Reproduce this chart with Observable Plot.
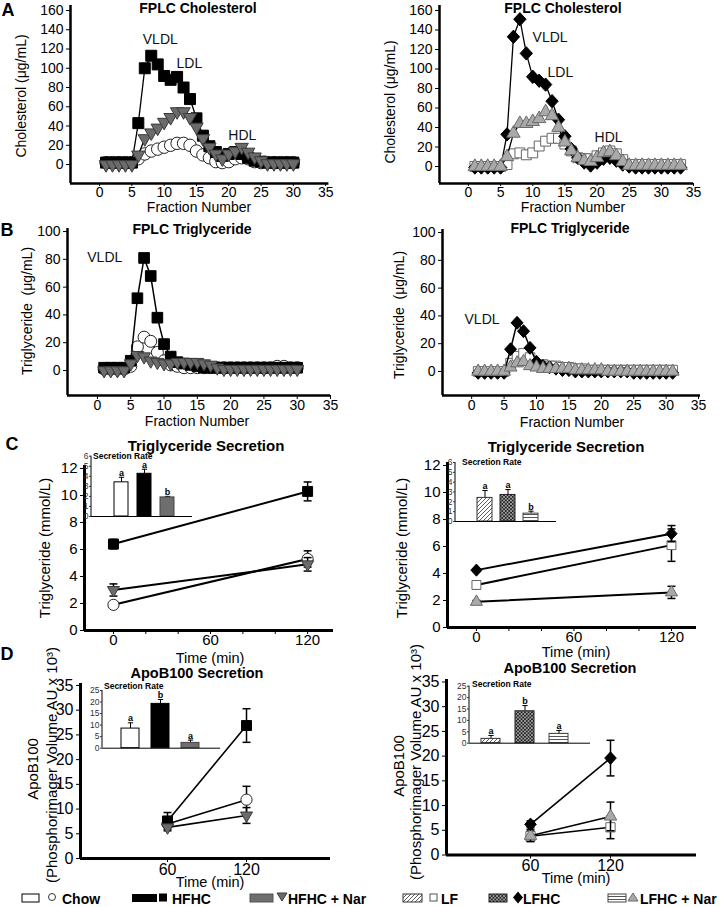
<!DOCTYPE html>
<html><head><meta charset="utf-8">
<script src="https://cdn.jsdelivr.net/npm/d3@7"></script>
<script src="https://cdn.jsdelivr.net/npm/@observablehq/plot@0.6"></script>
<style>
body{margin:0;background:#fff;}
#fig{position:relative;width:726px;height:907px;overflow:hidden;font-family:"Liberation Sans",Arial,sans-serif;color:#000;background:#fff;}
</style></head><body>
<svg width="0" height="0" style="position:absolute"><defs>
<pattern id="pLF" patternUnits="userSpaceOnUse" width="4" height="4"><rect width="4" height="4" fill="#fff"/><path d="M-1,1 l2,-2 M0,4 l4,-4 M3,5 l2,-2" stroke="#333" stroke-width="0.8"/></pattern>
<pattern id="pLFHC" patternUnits="userSpaceOnUse" width="3.5" height="3.5"><rect width="3.5" height="3.5" fill="#222"/><path d="M0,0 L3.5,3.5 M3.5,0 L0,3.5" stroke="#ddd" stroke-width="0.6"/></pattern>
<pattern id="pNar" patternUnits="userSpaceOnUse" width="4" height="3"><rect width="4" height="3" fill="#fff"/><path d="M0,1.5 H4" stroke="#555" stroke-width="1"/></pattern>
</defs></svg>
<div id="fig"></div>
<script>
// ---------------- DATA ----------------
// Panel A: FPLC cholesterol (µg/mL) per fraction
const fractionsA1 = [1,2,3,4,5,6,7,8,9,10,11,12,13,14,15,16,17,18,19,20,21,22,23,24,25,26,27,28,29,30];
const cholChow    = [2,2,2,2,2,6,11,14,16,18,20,22,22,20,14,10,7,3,2,3,6,7,6,3,2,2,2,2,2,2];
const cholHFHC    = [2,2,2,2,2,43,100,113,104,92,88,91,80,68,48,30,19,13,9,11,13,11,7,4,3,2,2,2,2,2];
const cholHFHCNar = [0,0,0,0,0,10,27,33,38,44,49,55,55,49,39,27,18,11,6,11,14,18,13,8,4,1,1,1,1,1];
const fractionsA2 = [1,2,3,4,5,6,7,8,9,10,11,12,13,14,15,16,17,18,19,20,21,22,23,24,25,26,27,28,29,30,31,32,33];
const cholLF      = [0,0,0,0,0,2,13,14,12,14,21,26,29,29,23,16,9,8,8,11,14,16,13,7,2,2,2,2,2,2,2,2,2];
const cholLFHC    = [-1,-1,-1,-1,-1,33,133,151,116,92,88,84,67,48,31,18,9,4,1,4,8,9,6,2,0,-1,-1,-1,-1,-1,-1,-1,-1];
const cholLFHCNar = [0,0,0,0,0,10,34,44,44,46,49,56,52,40,25,16,9,6,5,9,14,15,11,5,1,1,1,1,1,1,1,1,1];
// Panel B: FPLC triglyceride (µg/mL) per fraction
const fractionsB1 = [1,2,3,4,5,6,7,8,9,10,11,12,13,14,15,16,17,18,19,20,21,22,23,24,25,26,27,28,29,30];
const tgChow      = [1,1,1,1,3,17,24,21,13,7,4,3,2,2,2,2,2,2,2,2,2,2,2,2,2,2,3,3,2,2];
const tgHFHC      = [2,2,2,2,7,52,81,68,38,19,10,6,5,4,3,2,2,2,2,2,2,2,2,2,2,2,2,2,2,2];
const tgHFHCNar   = [0,0,0,0,5,11,10,7,6,5,5,6,6,6,6,5,4,2,1,1,1,1,1,1,1,1,1,1,1,1];
const fractionsB2 = [1,2,3,4,5,6,7,8,9,10,11,12,13,14,15,16,17,18,19,20,21,22,23,24,25,26,27,28,29,30,31];
const tgLF        = [0,0,0,0,0,6,11,13,10,5,5,4,4,3,3,2,2,1,1,1,1,1,1,1,1,1,1,1,1,1,1];
const tgLFHC      = [-1,-1,-1,-1,-1,16,35,29,17,7,4,3,2,1,1,0,0,0,0,0,0,0,0,0,-1,-1,-1,-1,-1,-1,-1];
const tgLFHCNar   = [0,0,0,0,0,3,6,7,4,3,2,2,2,2,2,1,1,1,1,1,0,0,0,0,0,0,0,0,0,0,0];
// Panel C: triglyceride secretion (mmol/L) vs time (min)
const timeC = [0, 120];
const tgsChow = [1.9, 5.3],   tgsChowErr = [0.1, 0.6];
const tgsHFHC = [6.4, 10.3],  tgsHFHCErr = [0.35, 0.7];
const tgsHFHCNar = [3.0, 4.9], tgsHFHCNarErr = [0.45, 0.5];
const tgsLF = [3.15, 6.1],    tgsLFErr = [0.3, 1.2];
const tgsLFHC = [4.25, 6.95], tgsLFHCErr = [0.1, 0.6];
const tgsLFHCNar = [1.9, 2.6], tgsLFHCNarErr = [0.1, 0.45];
// Panel C insets: secretion rate
const groupsHF = ["Chow", "HFHC", "HFHC + Nar"];
const groupsLF = ["LF", "LFHC", "LFHC + Nar"];
const tgRateHF = [3.4, 4.25, 1.9],  tgRateHFErr = [0.5, 0.45, 0.1],  tgRateHFLetters = ["a", "a", "b"];
const tgRateLF = [2.4, 2.7, 0.8],   tgRateLFErr = [0.75, 0.55, 0.25], tgRateLFLetters = ["a", "a", "b"];
// Panel D: ApoB100 secretion (AU x 10^3) vs time (min)
const timeD = [60, 120];
const apoChow = [7.0, 11.9],  apoChowErr = [0.5, 2.7];
const apoHFHC = [7.6, 26.9],  apoHFHCErr = [1.7, 3.4];
const apoHFHCNar = [6.3, 8.7], apoHFHCNarErr = [0.7, 1.6];
const apoLF = [3.8, 5.6],     apoLFErr = [1.0, 2.3];
const apoLFHC = [6.2, 19.6],  apoLFHCErr = [0.7, 3.6];
const apoLFHCNar = [3.9, 7.8], apoLFHCNarErr = [1.2, 2.9];
// Panel D insets
const apoRateHF = [8.5, 19.2, 2.3], apoRateHFErr = [2.5, 1.9, 1.2], apoRateHFLetters = ["a", "b", "a"];
const apoRateLF = [1.9, 14.0, 4.1], apoRateLFErr = [1.5, 2.5, 1.5], apoRateLFLetters = ["a", "b", "a"];
// Tick values
const xTicksFraction = [0,5,10,15,20,25,30,35];
const yTicksChol = [0,20,40,60,80,100,120,140,160];
const yTicksTG = [0,20,40,60,80,100];
const yTicksTGS = [0,2,4,6,8,10,12];
const xTicksTimeC = [0,20,40,60,80,100,120];
const xLabelsTimeC = [0,60,120];
const yTicksApo = [0,5,10,15,20,25,30,35];
const xTicksTimeD = [60,120];
const yTicksRateTG = [0,1,2,3,4,5,6];
const yTicksRateApo = [0,5,10,15,20,25];

// ---------------- HELPERS ----------------
const W = 726, H = 907;
const fig = document.getElementById("fig");
const FONT = '"Liberation Sans", Arial, sans-serif';

function layer(frame, opts) {
  const svg = Plot.plot({
    width: W, height: H,
    marginLeft: frame.x0, marginRight: W - frame.x1,
    marginTop: frame.y0, marginBottom: H - frame.y1,
    style: {background: "transparent", overflow: "visible", fontFamily: FONT, color: "#000"},
    ...opts
  });
  svg.style.position = "absolute";
  svg.style.left = "0px";
  svg.style.top = "0px";
  svg.style.maxWidth = "none";
  fig.appendChild(svg);
}

const triDown = {draw(ctx, size) {
  const y = Math.sqrt(size / (Math.sqrt(3) * 3));
  ctx.moveTo(0, 2 * y); ctx.lineTo(-Math.sqrt(3) * y, -y); ctx.lineTo(Math.sqrt(3) * y, -y); ctx.closePath();
}};
const diamondSym = {draw(ctx, size) {
  const r = Math.sqrt(size) * 0.62625;
  ctx.moveTo(0, -r * 1.08); ctx.lineTo(r, 0); ctx.lineTo(0, r * 1.08); ctx.lineTo(-r, 0); ctx.closePath();
}};
const capSym = {draw(ctx, size) {
  const w = Math.sqrt(size) / 2;
  ctx.moveTo(-w, 0); ctx.lineTo(w, 0);
}};

const STY = {
  Chow:    {symbol: "circle", fill: "#fff", stroke: "#222", k: 1.0},
  HFHC:    {symbol: "square", fill: "#000", stroke: "#000", k: 1.0},
  HFHCNar: {symbol: triDown, fill: "#6b6b6b", stroke: "#3a3a3a", k: 0.8},
  LF:      {symbol: "square", fill: "#fff", stroke: "#666", k: 0.9},
  LFHC:    {symbol: diamondSym, fill: "#000", stroke: "#000", k: 0.9},
  LFHCNar: {symbol: "triangle", fill: "#a9a9a9", stroke: "#6a6a6a", k: 0.8}
};

function table(xs, ys, es) { return xs.map((x, i) => ({x, y: ys[i], e: es ? es[i] : 0})); }

function lineChart(o) {
  const marks = [];
  marks.push(Plot.axisY({ticks: o.yTicks, tickFormat: d => String(d), tickSize: 4, tickPadding: 3, fontSize: o.fontSize, label: null, anchor: "left"}));
  marks.push(Plot.axisX({ticks: o.xTicks, tickFormat: o.xTickFormat || (d => String(d)), tickSize: o.tickSizeX, tickPadding: o.tickPadX, fontSize: o.fontSize, label: null, anchor: "bottom"}));
  for (const s of o.series) {
    const st = STY[s.style];
    if (o.errors) {
      marks.push(Plot.ruleX(s.data, {x: "x", y1: d => d.y - d.e, y2: d => d.y + d.e, stroke: "#000", strokeWidth: 1.5}));
      marks.push(Plot.dot(s.data, {x: "x", y: d => d.y + d.e, symbol: capSym, r: 4.5, stroke: "#000", fill: "none", strokeWidth: 1.5}));
      marks.push(Plot.dot(s.data, {x: "x", y: d => d.y - d.e, symbol: capSym, r: 4.5, stroke: "#000", fill: "none", strokeWidth: 1.5}));
    }
    marks.push(Plot.line(s.data, {x: "x", y: "y", stroke: "#000", strokeWidth: o.lineWidth}));
    marks.push(Plot.dot(s.data, {x: "x", y: "y", symbol: st.symbol, r: o.r * st.k, fill: st.fill, stroke: st.stroke, strokeWidth: 1}));
  }
  marks.push(Plot.ruleX([o.xDomain[0]], {stroke: "#000", strokeWidth: o.axisWidth}));
  marks.push(Plot.ruleY([o.yDomain[0]], {stroke: "#000", strokeWidth: o.axisWidth}));
  if (o.notes) marks.push(Plot.text(o.notes, {x: "x", y: "y", text: "t", fontSize: 14, fill: "#111"}));
  layer(o.frame, {x: {domain: o.xDomain}, y: {domain: o.yDomain}, marks});
}

function barInset(o) {
  const data = o.groups.map((g, i) => ({g, v: o.values[i], e: o.errors[i], l: o.letters[i], f: o.fills[i], s: o.strokes[i]}));
  const vline = (index, scales, values, dims) => {
    const l = document.createElementNS("http://www.w3.org/2000/svg", "line");
    l.setAttribute("x1", dims.marginLeft); l.setAttribute("x2", dims.marginLeft);
    l.setAttribute("y1", dims.marginTop); l.setAttribute("y2", dims.height - dims.marginBottom);
    l.setAttribute("stroke", "#000"); l.setAttribute("stroke-width", "1");
    return l;
  };
  const marks = [
    Plot.ruleX(data, {x: "g", y1: "v", y2: d => d.v + d.e, stroke: "#000", strokeWidth: 1}),
    Plot.dot(data, {x: "g", y: d => d.v + d.e, symbol: capSym, r: 3, stroke: "#000", fill: "none", strokeWidth: 1}),
    Plot.barY(data, {x: "g", y: "v", fill: d => d.f, stroke: d => d.s, strokeWidth: 1}),
    Plot.text(data, {x: "g", y: d => d.v + d.e, text: "l", dy: -4.5, fontSize: 9, fontWeight: "bold", fill: "#000"}),
    Plot.ruleY([0], {stroke: "#000", strokeWidth: 1}),
    vline,
    Plot.axisY({ticks: o.yTicks, tickFormat: d => String(d), tickSize: 2, tickPadding: 1, fontSize: 8.5, color: "#333", label: null, anchor: "left"})
  ];
  const pad = o.pad;
  layer(o.frame, {
    x: {type: "band", domain: o.groups, range: o.range, paddingInner: pad, paddingOuter: pad / 2, axis: null},
    y: {domain: o.yDomain},
    color: {type: "identity"},
    marks
  });
}

function txt(s, x, y, {size = 14, bold = false, rot = false, start = false} = {}) {
  const d = document.createElement("div");
  d.textContent = s;
  d.style.cssText = `position:absolute;left:${x}px;top:${y}px;font-size:${size}px;font-weight:${bold ? 700 : 400};white-space:nowrap;line-height:1;color:#000;transform:translate(${start ? "0" : "-50%"},-50%)${rot ? " rotate(-90deg)" : ""};`;
  fig.appendChild(d);
}

// ---------------- PANEL A ----------------
lineChart({
  frame: {x0: 70, x1: 328.4, y0: 5, y1: 183},
  xDomain: [-4.5, 35.5], yDomain: [-19.7, 165.2],
  xTicks: xTicksFraction, yTicks: yTicksChol, fontSize: 14, tickSizeX: 3, tickPadX: 1,
  axisWidth: 2.5, lineWidth: 1.3, r: 6.2,
  series: [
    {style: "Chow", data: table(fractionsA1, cholChow)},
    {style: "HFHC", data: table(fractionsA1, cholHFHC)},
    {style: "HFHCNar", data: table(fractionsA1, cholHFHCNar)}
  ],
  notes: [{x: 9.4, y: 130, t: "VLDL"}, {x: 13.9, y: 105, t: "LDL"}, {x: 22.1, y: 30, t: "HDL"}]
});
lineChart({
  frame: {x0: 439, x1: 693, y0: 5, y1: 183},
  xDomain: [-4.5, 35], yDomain: [-17.4, 165.1],
  xTicks: xTicksFraction, yTicks: yTicksChol, fontSize: 14, tickSizeX: 3, tickPadX: 1,
  axisWidth: 2.5, lineWidth: 1.3, r: 6.2,
  series: [
    {style: "LF", data: table(fractionsA2, cholLF)},
    {style: "LFHC", data: table(fractionsA2, cholLFHC)},
    {style: "LFHCNar", data: table(fractionsA2, cholLFHCNar)}
  ],
  notes: [{x: 12.7, y: 132.6, t: "VLDL"}, {x: 14.3, y: 96.7, t: "LDL"}, {x: 21.8, y: 30, t: "HDL"}]
});

// ---------------- PANEL B ----------------
lineChart({
  frame: {x0: 67, x1: 330, y0: 228, y1: 395},
  xDomain: [-4.5, 35], yDomain: [-18, 102.2],
  xTicks: xTicksFraction, yTicks: yTicksTG, fontSize: 14, tickSizeX: 4, tickPadX: 1,
  axisWidth: 2.5, lineWidth: 1.5, r: 6.0,
  series: [
    {style: "Chow", data: table(fractionsB1, tgChow)},
    {style: "HFHC", data: table(fractionsB1, tgHFHC)},
    {style: "HFHCNar", data: table(fractionsB1, tgHFHCNar)}
  ],
  notes: [{x: 1.1, y: 81.5, t: "VLDL"}]
});
lineChart({
  frame: {x0: 442, x1: 700, y0: 229, y1: 395},
  xDomain: [-4.5, 35.3], yDomain: [-17.3, 102.2],
  xTicks: xTicksFraction, yTicks: yTicksTG, fontSize: 14, tickSizeX: 4, tickPadX: 1,
  axisWidth: 2.5, lineWidth: 1.5, r: 6.0,
  series: [
    {style: "LF", data: table(fractionsB2, tgLF)},
    {style: "LFHC", data: table(fractionsB2, tgLFHC)},
    {style: "LFHCNar", data: table(fractionsB2, tgLFHCNar)}
  ],
  notes: [{x: 1.6, y: 37.2, t: "VLDL"}]
});

// ---------------- PANEL C ----------------
const fmtC = d => xLabelsTimeC.includes(d) ? String(d) : "";
lineChart({
  frame: {x0: 84, x1: 333, y0: 465, y1: 630},
  xDomain: [-17.9, 136], yDomain: [0, 12.22],
  xTicks: xTicksTimeC, xTickFormat: fmtC, yTicks: yTicksTGS, fontSize: 15, tickSizeX: 4, tickPadX: 0,
  axisWidth: 3, lineWidth: 2, r: 5.6, errors: true,
  series: [
    {style: "Chow", data: table(timeC, tgsChow, tgsChowErr)},
    {style: "HFHCNar", data: table(timeC, tgsHFHCNar, tgsHFHCNarErr)},
    {style: "HFHC", data: table(timeC, tgsHFHC, tgsHFHCErr)}
  ]
});
lineChart({
  frame: {x0: 447, x1: 696, y0: 462, y1: 627},
  xDomain: [-17.8, 135.4], yDomain: [0, 12.22],
  xTicks: xTicksTimeC, xTickFormat: fmtC, yTicks: yTicksTGS, fontSize: 15, tickSizeX: 4, tickPadX: 0,
  axisWidth: 3, lineWidth: 2, r: 5.6, errors: true,
  series: [
    {style: "LF", data: table(timeC, tgsLF, tgsLFErr)},
    {style: "LFHCNar", data: table(timeC, tgsLFHCNar, tgsLFHCNarErr)},
    {style: "LFHC", data: table(timeC, tgsLFHC, tgsLFHCErr)}
  ]
});
barInset({
  frame: {x0: 91, x1: 192, y0: 455.7, y1: 516}, range: [108.9, 178.6], pad: 0.385,
  yDomain: [0, 6], yTicks: yTicksRateTG, groups: groupsHF, values: tgRateHF, errors: tgRateHFErr, letters: tgRateHFLetters,
  fills: ["#fff", "#000", "#6e6e6e"], strokes: ["#000", "#000", "#444"]
});
barInset({
  frame: {x0: 455, x1: 556, y0: 462, y1: 521}, range: [472.25, 542.75], pad: 0.36,
  yDomain: [0, 6], yTicks: yTicksRateTG, groups: groupsLF, values: tgRateLF, errors: tgRateLFErr, letters: tgRateLFLetters,
  fills: ["url(#pLF)", "url(#pLFHC)", "url(#pNar)"], strokes: ["#333", "#222", "#444"]
});

// ---------------- PANEL D ----------------
lineChart({
  frame: {x0: 80, x1: 330, y0: 683, y1: 858},
  xDomain: [-6.1, 183.8], yDomain: [0, 35.4],
  xTicks: xTicksTimeD, yTicks: yTicksApo, fontSize: 16, tickSizeX: 4, tickPadX: 1,
  axisWidth: 3, lineWidth: 1.6, r: 5.6, errors: true,
  series: [
    {style: "Chow", data: table(timeD, apoChow, apoChowErr)},
    {style: "HFHC", data: table(timeD, apoHFHC, apoHFHCErr)},
    {style: "HFHCNar", data: table(timeD, apoHFHCNar, apoHFHCNarErr)}
  ]
});
lineChart({
  frame: {x0: 446, x1: 696, y0: 679, y1: 854.5},
  xDomain: [-3, 184.5], yDomain: [0, 35.5],
  xTicks: xTicksTimeD, yTicks: yTicksApo, fontSize: 16, tickSizeX: 4, tickPadX: 1,
  axisWidth: 3, lineWidth: 1.6, r: 5.8, errors: true,
  series: [
    {style: "LF", data: table(timeD, apoLF, apoLFErr)},
    {style: "LFHCNar", data: table(timeD, apoLFHCNar, apoLFHCNarErr)},
    {style: "LFHC", data: table(timeD, apoLFHC, apoLFHCErr)}
  ]
});
barInset({
  frame: {x0: 102, x1: 220, y0: 690, y1: 747.7}, range: [115, 205], pad: 0.4,
  yDomain: [0, 25], yTicks: yTicksRateApo, groups: groupsHF, values: apoRateHF, errors: apoRateHFErr, letters: apoRateHFLetters,
  fills: ["#fff", "#000", "#6e6e6e"], strokes: ["#000", "#000", "#444"]
});
barInset({
  frame: {x0: 469, x1: 590, y0: 685.7, y1: 742.7}, range: [472.75, 576.25], pad: 0.45,
  yDomain: [0, 25], yTicks: yTicksRateApo, groups: groupsLF, values: apoRateLF, errors: apoRateLFErr, letters: apoRateLFLetters,
  fills: ["url(#pLF)", "url(#pLFHC)", "url(#pNar)"], strokes: ["#333", "#222", "#444"]
});

// ---------------- TEXT ----------------
txt("A", 8, 10, {size: 18, bold: true});
txt("FPLC Cholesterol", 198, 8, {bold: true});
txt("FPLC Cholesterol", 563, 8, {bold: true});
txt("Cholesterol (μg/mL)", 21, 96, {rot: true});
txt("Cholesterol (μg/mL)", 390, 102, {rot: true});
txt("Fraction Number", 199, 207);
txt("Fraction Number", 573, 207);
txt("B", 7, 230, {size: 18, bold: true});
txt("FPLC Triglyceride", 192, 229, {bold: true});
txt("FPLC Triglyceride", 570, 228, {bold: true});
txt("Triglyceride\u00a0 (μg/mL)", 27, 311, {rot: true});
txt("Triglyceride\u00a0 (μg/mL)", 399, 315, {rot: true});
txt("Fraction Number", 197, 421);
txt("Fraction Number", 572, 422);
txt("C", 12, 444, {size: 18, bold: true});
txt("Triglyceride Secretion", 206, 445, {size: 15, bold: true});
txt("Triglyceride Secretion", 566, 446, {size: 15, bold: true});
txt("Triglyceride (mmol/L)", 44, 548, {size: 15, rot: true});
txt("Triglyceride (mmol/L)", 401, 548, {size: 15, rot: true});
txt("Time (min)", 210, 658, {size: 14.5});
txt("Time (min)", 576, 652, {size: 14.5});
txt("Secretion Rate", 93, 456, {size: 8.5, bold: true, start: true});
txt("Secretion Rate", 462, 462, {size: 8.5, bold: true, start: true});
txt("D", 7, 654, {size: 18, bold: true});
txt("ApoB100 Secretion", 197, 673, {size: 14.5, bold: true});
txt("ApoB100 Secretion", 570, 668, {size: 14.5, bold: true});
txt("ApoB100", 32, 769, {size: 15, rot: true});
txt("(Phosphorimager Volume AU x 10³)", 51, 765, {size: 15, rot: true});
txt("ApoB100", 398, 766, {size: 15, rot: true});
txt("(Phosphorimager Volume AU x 10³)", 415, 762, {size: 15, rot: true});
txt("Time (min)", 210, 882, {size: 14.5});
txt("Time (min)", 576, 878, {size: 14.5});
txt("Secretion Rate", 104, 686, {size: 8.5, bold: true, start: true});
txt("Secretion Rate", 472, 684, {size: 8.5, bold: true, start: true});

// ---------------- LEGEND ----------------
const legend = document.createElementNS("http://www.w3.org/2000/svg", "svg");
legend.setAttribute("width", W); legend.setAttribute("height", 20);
legend.style.cssText = "position:absolute;left:0;top:889px;overflow:visible;";
legend.innerHTML = `
<g font-family='"Liberation Sans", Arial, sans-serif' font-size="14" font-weight="bold" fill="#000">
<rect x="22" y="5" width="17" height="8" fill="#fff" stroke="#000"/>
<circle cx="52" cy="8" r="3.5" fill="#fff" stroke="#333"/>
<text x="62" y="15">Chow</text>
<rect x="132" y="5" width="25" height="8" fill="#000"/>
<rect x="159" y="4.5" width="8" height="8" fill="#000"/>
<text x="172" y="15">HFHC</text>
<rect x="250" y="5" width="23" height="8" fill="#6e6e6e" stroke="#555"/>
<path d="M277,4 L287,4 L282,12 Z" fill="#6b6b6b" stroke="#3a3a3a"/>
<text x="288" y="15">HFHC + Nar</text>
<rect x="403" y="5" width="19" height="8" fill="url(#pLF)" stroke="#333"/>
<rect x="430" y="5" width="7" height="7" fill="#fff" stroke="#555"/>
<text x="441" y="15">LF</text>
<rect x="489" y="5" width="18" height="8" fill="url(#pLFHC)" stroke="#222"/>
<path d="M518,2.5 L523,8.5 L518,14.5 L513,8.5 Z" fill="#000"/>
<text x="523" y="15">LFHC</text>
<rect x="608" y="5" width="18" height="8" fill="url(#pNar)" stroke="#444"/>
<path d="M633,4 L638,12 L628,12 Z" fill="#a9a9a9" stroke="#6a6a6a"/>
<text x="640" y="15">LFHC + Nar</text>
</g>`;
fig.appendChild(legend);
</script>
</body></html>
